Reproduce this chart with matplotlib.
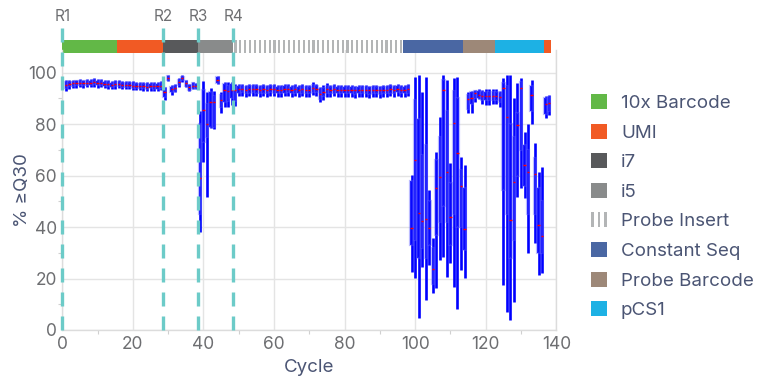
import matplotlib
matplotlib.use("Agg")
import matplotlib.pyplot as plt
import numpy as np
from matplotlib.patches import Rectangle, Patch
from matplotlib.legend_handler import HandlerBase
from matplotlib.ticker import MultipleLocator

plt.rcParams['font.family'] = ['Inter', 'DejaVu Sans']

cycles = list(range(1, 139))

whisker_low = [
    93.0, 93.8, 94.0, 94.2, 94.3, 94.2, 94.3, 94.4, 94.5, 94.2,
    94.3, 94.0, 93.8, 93.6, 93.8, 93.9, 93.6, 93.5, 93.6, 93.3,
    93.2, 93.1, 93.0, 92.8, 93.0, 92.9, 92.9, 93.1, 89.5, 96.8,
    91.5, 92.5, 94.5, 96.5, 94.5, 92.8, 93.5, 93.5, 38.0, 65.4,
    51.6, 78.4, 78.0, 95.5, 84.2, 86.8, 86.8, 87.5, 86.9, 90.8,
    91.0, 90.7, 90.9, 91.0, 90.8, 90.6, 90.9, 90.7, 91.0, 90.8,
    90.7, 90.6, 90.9, 91.0, 90.7, 90.9, 90.6, 90.8, 90.5, 90.7,
    91.2, 90.8, 88.5, 89.5, 90.6, 90.6, 90.8, 90.4, 90.7, 90.6,
    90.4, 90.7, 90.3, 90.6, 90.4, 90.5, 90.3, 90.5, 90.6, 90.3,
    90.7, 90.5, 90.8, 90.6, 90.9, 90.7, 90.6, 90.8, 22.7, 20.1,
    4.5, 24.6, 11.7, 25.3, 14.3, 16.2, 27.2, 28.5, 20.7, 25.9,
    16.8, 8.0, 23.3, 20.1, 84.2, 84.5, 88.7, 89.6, 87.8, 87.5,
    87.5, 87.8, 88.0, 86.8, 17.5, 7.1, 3.9, 11.0, 51.8, 55.1,
    51.2, 30.0, 80.0, 33.7, 21.4, 22.0, 82.3, 83.6]

q1 = [
    94.2, 94.8, 95.0, 95.1, 95.2, 95.1, 95.2, 95.3, 95.4, 95.1,
    95.2, 94.9, 94.7, 94.5, 94.7, 94.8, 94.5, 94.4, 94.5, 94.2,
    94.1, 94.0, 93.9, 93.7, 93.9, 93.8, 93.8, 94.0, 90.5, 97.2,
    92.5, 93.0, 95.2, 97.0, 95.0, 93.3, 94.0, 94.0, 45.0, 73.2,
    75.0, 79.0, 79.0, 96.0, 86.8, 88.7, 89.0, 90.0, 89.0, 92.2,
    92.3, 92.1, 92.2, 92.3, 92.2, 92.1, 92.2, 92.1, 92.3, 92.2,
    92.1, 92.0, 92.2, 92.3, 92.1, 92.2, 92.1, 92.2, 92.0, 92.1,
    92.6, 92.3, 89.8, 91.0, 92.2, 92.0, 92.2, 91.9, 92.1, 92.0,
    91.9, 92.1, 91.8, 92.0, 91.9, 92.1, 91.8, 91.9, 92.0, 91.8,
    92.1, 91.9, 92.2, 92.0, 92.3, 92.1, 92.0, 92.2, 33.0, 35.0,
    28.0, 32.0, 28.0, 33.0, 18.0, 37.0, 42.0, 48.0, 42.0, 33.0,
    45.0, 40.0, 40.0, 31.0, 86.0, 88.0, 90.0, 90.0, 89.5, 89.5,
    89.5, 89.5, 89.5, 88.5, 54.4, 45.0, 28.0, 35.0, 60.0, 70.0,
    56.0, 45.0, 85.0, 45.0, 30.0, 30.0, 84.0, 85.0]

median = [
    95.2, 95.6, 95.8, 95.9, 96.0, 95.9, 96.0, 96.1, 96.3, 95.9,
    96.0, 95.7, 95.5, 95.3, 95.5, 95.6, 95.3, 95.2, 95.3, 95.0,
    94.9, 94.8, 94.8, 94.6, 94.8, 94.7, 94.7, 94.9, 92.5, 98.0,
    93.5, 94.0, 96.2, 97.8, 96.0, 94.3, 95.0, 94.8, 59.0, 85.5,
    80.1, 88.7, 88.4, 97.2, 89.4, 93.3, 93.0, 93.2, 93.3, 93.5,
    93.6, 93.4, 93.5, 93.6, 93.5, 93.4, 93.5, 93.4, 93.6, 93.5,
    93.4, 93.3, 93.5, 93.6, 93.4, 93.5, 93.4, 93.5, 93.3, 93.4,
    93.9, 93.6, 91.6, 92.3, 93.6, 93.3, 93.5, 93.2, 93.4, 93.3,
    93.2, 93.4, 93.1, 93.3, 93.2, 93.4, 93.1, 93.2, 93.3, 93.1,
    93.4, 93.2, 93.5, 93.3, 93.6, 93.4, 93.3, 93.5, 39.5, 66.1,
    45.3, 42.4, 43.0, 39.5, 23.6, 55.1, 59.3, 93.3, 61.3, 44.0,
    80.3, 68.7, 56.0, 39.1, 89.6, 90.0, 92.0, 91.3, 91.0, 91.0,
    91.0, 91.0, 91.0, 90.5, 93.9, 82.7, 42.8, 57.6, 79.5, 93.9,
    64.1, 61.5, 91.3, 60.5, 40.8, 36.5, 87.7, 88.1]

q3 = [
    96.2, 96.3, 96.5, 96.6, 96.7, 96.6, 96.7, 96.8, 97.0, 96.6,
    96.8, 96.5, 96.3, 96.1, 96.3, 96.4, 96.1, 96.0, 96.1, 95.8,
    95.7, 95.6, 95.6, 95.4, 95.6, 95.5, 95.6, 95.8, 94.0, 98.6,
    94.5, 95.0, 97.3, 98.5, 96.8, 95.2, 95.8, 95.5, 80.0, 93.3,
    88.0, 92.6, 91.0, 98.2, 91.5, 95.5, 95.0, 95.5, 94.6, 94.7,
    94.8, 94.6, 94.7, 94.8, 94.7, 94.6, 94.7, 94.6, 94.8, 94.7,
    94.6, 94.5, 94.7, 94.8, 94.6, 94.7, 94.6, 94.7, 94.5, 94.6,
    95.2, 94.8, 93.5, 94.0, 94.8, 94.5, 94.7, 94.4, 94.6, 94.5,
    94.4, 94.6, 94.3, 94.5, 94.4, 94.6, 94.3, 94.4, 94.5, 94.3,
    94.6, 94.4, 94.7, 94.5, 94.8, 94.6, 94.5, 94.7, 58.0, 89.4,
    82.0, 68.0, 72.0, 50.0, 32.0, 66.0, 75.0, 97.0, 85.0, 57.0,
    93.0, 90.0, 62.0, 55.0, 91.5, 92.5, 92.8, 93.0, 92.5, 92.5,
    92.5, 92.5, 92.5, 92.0, 95.9, 95.0, 80.0, 75.0, 84.2, 96.5,
    72.0, 70.0, 95.0, 67.0, 55.0, 50.0, 90.0, 90.5]

whisker_high = [
    97.0, 97.0, 97.2, 97.3, 97.4, 97.3, 97.4, 97.6, 97.8, 97.4,
    97.5, 97.2, 97.0, 96.8, 97.0, 97.1, 96.8, 96.7, 96.8, 96.6,
    96.5, 96.4, 96.4, 96.2, 96.4, 96.3, 96.4, 96.6, 94.5, 99.0,
    95.2, 95.6, 97.9, 99.0, 97.3, 95.7, 96.3, 96.0, 85.0, 96.9,
    92.6, 93.9, 93.0, 98.6, 92.6, 96.5, 96.2, 96.5, 95.6, 95.4,
    95.5, 95.3, 95.4, 95.5, 95.4, 95.3, 95.4, 95.3, 95.5, 95.4,
    95.3, 95.2, 95.4, 95.5, 95.3, 95.4, 95.3, 95.4, 95.2, 95.3,
    96.2, 95.5, 94.5, 95.2, 96.0, 95.2, 95.4, 95.1, 95.3, 95.2,
    95.1, 95.3, 95.0, 95.2, 95.1, 95.3, 95.0, 95.1, 95.2, 95.0,
    95.3, 95.1, 95.4, 95.2, 95.5, 95.3, 95.2, 95.4, 60.2, 98.4,
    99.0, 92.6, 98.4, 54.4, 35.6, 69.3, 82.9, 99.1, 97.2, 64.8,
    97.8, 98.4, 67.4, 64.1, 92.6, 93.0, 93.3, 93.7, 93.3, 93.5,
    93.5, 93.5, 93.5, 92.8, 97.8, 99.1, 99.1, 90.0, 95.9, 97.8,
    77.1, 80.0, 97.0, 72.6, 61.5, 63.5, 90.9, 91.3]

segment_names = ["10x Barcode", "UMI", "i7", "i5", "Probe Insert",
                 "Constant Seq", "Probe Barcode", "pCS1", "UMI"]
segment_edges = [0, 15.5, 28.5, 38.5, 48.5, 96.6, 113.6, 122.6, 136.6, 138.6]
segment_colors = ["#62b847", "#f15a24", "#58595b", "#898b8b", "#b3b5b6",
                  "#4a67a3", "#9d8878", "#1db1e4", "#f15a24"]

read_labels = ["R1", "R2", "R3", "R4"]
read_starts = [0, 28.5, 38.5, 48.5]

legend_names = ["10x Barcode", "UMI", "i7", "i5", "Probe Insert",
                "Constant Seq", "Probe Barcode", "pCS1"]

TEXT = "#4b5574"
TICK = "#6d6e71"
GRID = "#e4e4e4"
BLUE = "#0000ff"

fig = plt.figure(figsize=(7.57, 3.76), dpi=100)
ax = fig.add_axes([62.3 / 757, 46 / 376, (556.3 - 62.3) / 757, (330 - 50) / 376])

x = np.array(cycles, dtype=float)
lo = np.array(whisker_low); b1 = np.array(q1); md = np.array(median)
b3 = np.array(q3); hi = np.array(whisker_high)

ax.vlines(x, lo, hi, color=BLUE, lw=1.9, zorder=3)
ax.bar(x, b3 - b1, bottom=b1, width=0.7, color=BLUE,
       edgecolor=(0.35, 0.35, 1.0, 0.4), linewidth=1.6, zorder=4)
ax.hlines(md, x - 0.33, x + 0.33, color="#ff0000", lw=1.0, zorder=5)

ax.set_xlim(0, 140)
ax.set_ylim(0, 108.8)
ax.xaxis.set_major_locator(MultipleLocator(20))
ax.yaxis.set_major_locator(MultipleLocator(20))
ax.xaxis.set_minor_locator(MultipleLocator(10))
ax.yaxis.set_minor_locator(MultipleLocator(10))
ax.grid(True, which="major", color=GRID, lw=1.0)
ax.set_axisbelow(True)
ax.tick_params(which="both", colors="#d0d0d0", labelcolor=TICK, labelsize=12.5)
ax.tick_params(which="major", length=0, pad=4)
ax.tick_params(which="minor", length=3, width=0.8)
for s in ["left", "bottom", "right"]:
    ax.spines[s].set_color("#dcdcdc")
    ax.spines[s].set_linewidth(1.0)
ax.spines["top"].set_visible(False)

ax.set_xlabel("Cycle", color=TEXT, fontsize=13.5, labelpad=5)
ax.set_ylabel("% ≥Q30", color=TEXT, fontsize=13.5, labelpad=-2)

# top segment bar
bar_lo, bar_hi = 107.8, 112.5
for i, name in enumerate(segment_names):
    x0, x1 = segment_edges[i], segment_edges[i + 1]
    if name == "Probe Insert":
        for sx in np.arange(x0 + 0.3, x1 - 0.3, 1.38):
            ax.add_patch(Rectangle((sx, bar_lo), 0.6, bar_hi - bar_lo,
                                   facecolor=segment_colors[i], edgecolor="none",
                                   clip_on=False, zorder=2))
    else:
        ax.add_patch(Rectangle((x0, bar_lo), x1 - x0, bar_hi - bar_lo,
                               facecolor=segment_colors[i], edgecolor="none",
                               clip_on=False, zorder=2))

# read start dashed lines
for lab, xs in zip(read_labels, read_starts):
    ax.plot([xs, xs], [0, 117.5], color="#6ccbc8", lw=2.4,
            linestyle=(0, (4.2, 3.0)), clip_on=False, zorder=6)
    ax.text(xs, 118.8, lab, ha="center", va="bottom", color=TICK, fontsize=11)


class StripeHandler(HandlerBase):
    def create_artists(self, legend, orig_handle, xdescent, ydescent,
                       width, height, fontsize, trans):
        arts = []
        bw = width * 0.17
        for k in range(3):
            r = Rectangle((-xdescent + k * width * 0.415, -ydescent), bw, height,
                          facecolor=orig_handle.get_facecolor(), edgecolor="none",
                          transform=trans)
            arts.append(r)
        return arts


legend_colors = ["#62b847", "#f15a24", "#58595b", "#898b8b", "#b3b5b6",
                 "#4a67a3", "#9d8878", "#1db1e4"]
handles = [Patch(facecolor=c, edgecolor="none") for c in legend_colors]
hmap = {handles[4]: StripeHandler()}
leg = fig.legend(handles, legend_names, handler_map=hmap,
                 loc="upper left", bbox_to_anchor=(591 / 757, (376 - 94) / 376),
                 frameon=False, fontsize=13.5, handlelength=0.85, handleheight=0.85,
                 handletextpad=0.75, labelspacing=0.62, borderpad=0, borderaxespad=0)
for t in leg.get_texts():
    t.set_color(TEXT)

fig.savefig("out.png", dpi=100)
